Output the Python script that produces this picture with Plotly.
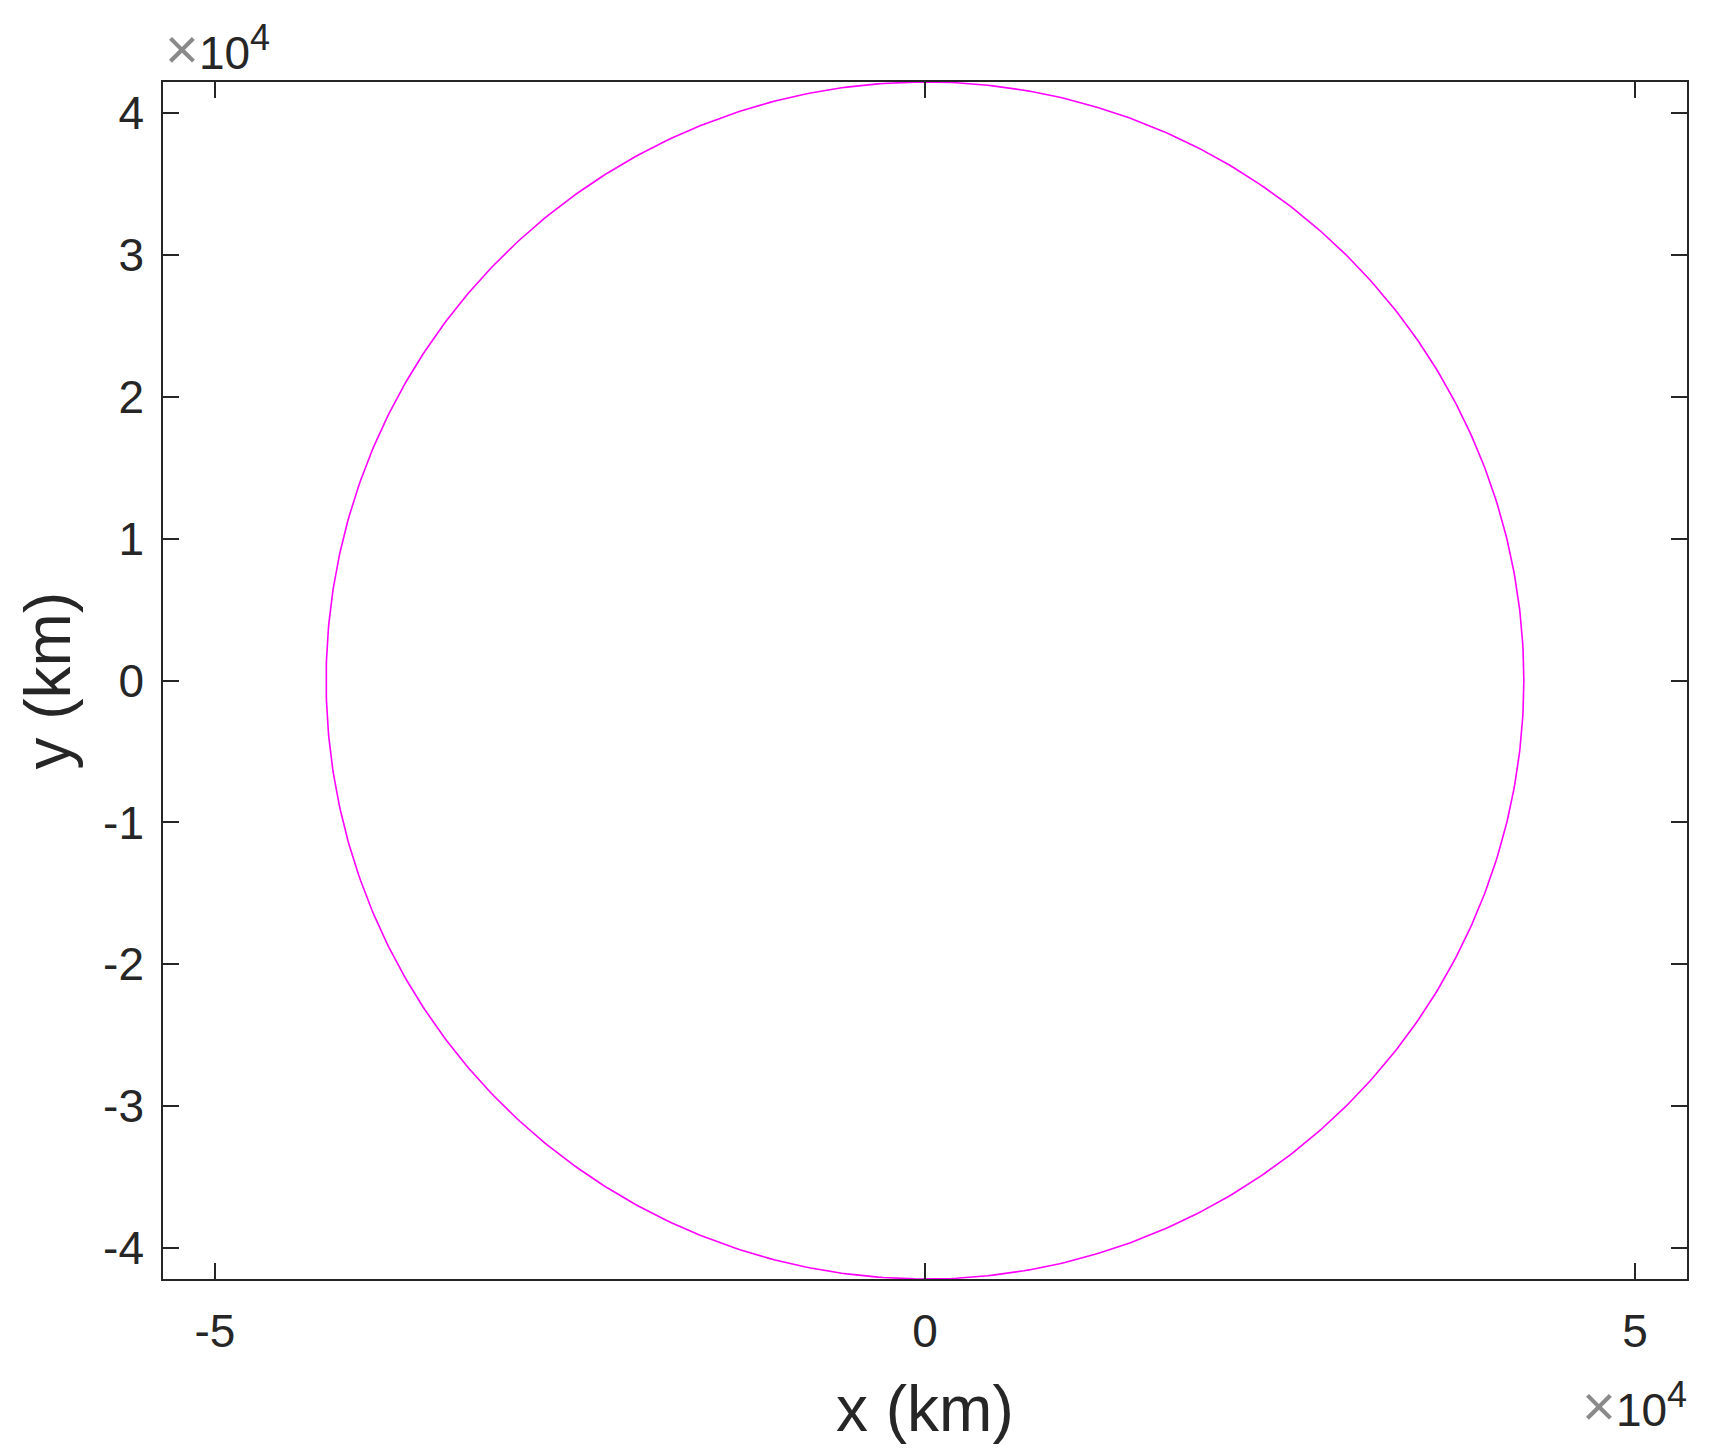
import numpy as np
import plotly.graph_objects as go

# geostationary orbit, radius in km
orbit_radius_km = 42164
orbit_angle_deg = np.linspace(0, 360, 721)

x_range = [-53650, 53650]
y_range = [-42164, 42164]

x_tick_vals = [-5e4, 0, 5e4]
x_tick_text = ['-5', '0', '5']
y_tick_vals = [-4e4, -3e4, -2e4, -1e4, 0, 1e4, 2e4, 3e4, 4e4]
y_tick_text = ['-4', '-3', '-2', '-1', '0', '1', '2', '3', '4']

theta = np.deg2rad(orbit_angle_deg)
x_orbit = orbit_radius_km * np.cos(theta)
y_orbit = orbit_radius_km * np.sin(theta)

axis_col = '#262626'
font_name = 'Liberation Sans, Arial, sans-serif'

fig = go.Figure()
fig.add_trace(go.Scatter(x=x_orbit, y=y_orbit, mode='lines',
                         line=dict(color='#FF00FF', width=1.6),
                         showlegend=False, hoverinfo='skip'))

axis_common = dict(showline=True, linecolor=axis_col, linewidth=1.6,
                   mirror='ticks', ticks='inside', ticklen=16, tickwidth=1.6,
                   tickcolor=axis_col, showgrid=False, zeroline=False,
                   tickfont=dict(family=font_name, size=46, color=axis_col))

fig.update_xaxes(range=x_range, tickvals=x_tick_vals, ticktext=x_tick_text,
                 ticklabelstandoff=11, **axis_common)
fig.update_yaxes(range=y_range, tickvals=y_tick_vals, ticktext=y_tick_text,
                 ticklabelstandoff=8, **axis_common)

# page body adds 8px offset, so figure is 8px smaller
fig.update_layout(width=1718, height=1448,
                  margin=dict(l=155, r=39, t=74, b=177, autoexpand=False),
                  plot_bgcolor='white', paper_bgcolor='white',
                  font=dict(family=font_name, color=axis_col))

exp_text = ('<span style="color:#8a8a8a;font-size:58px;font-weight:300">×</span>10'
            '<sup><span style="font-size:36px">4</span></sup>')
fig.add_annotation(text=exp_text, xref='paper', yref='paper', x=0, y=1,
                   xanchor='left', yanchor='bottom', xshift=0, yshift=-1,
                   showarrow=False, font=dict(family=font_name, size=46, color=axis_col))
fig.add_annotation(text=exp_text, xref='paper', yref='paper', x=1, y=0,
                   xanchor='right', yanchor='top', xshift=2, yshift=-92,
                   showarrow=False, font=dict(family=font_name, size=46, color=axis_col))

fig.add_annotation(text='x (km)', xref='paper', yref='paper', x=0.5, y=0,
                   xanchor='center', yanchor='top', yshift=-92,
                   showarrow=False, font=dict(family=font_name, size=64, color=axis_col))
fig.add_annotation(text='y (km)', xref='paper', yref='paper', x=0, y=0.5,
                   xanchor='center', yanchor='middle', xshift=-116, textangle=-90,
                   showarrow=False, font=dict(family=font_name, size=64, color=axis_col))

fig.write_html("out.html")
